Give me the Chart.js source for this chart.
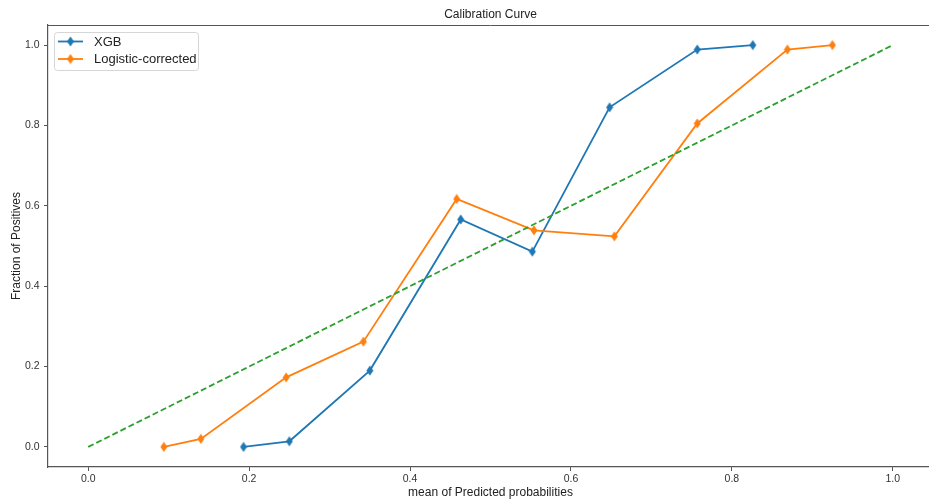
<!DOCTYPE html>
<html>
<head>
<meta charset="utf-8">
<script src="https://cdn.jsdelivr.net/npm/chart.js@4/dist/chart.umd.min.js"></script>
<style>
  html, body { margin: 0; padding: 0; background: #fff; overflow: hidden; }
</style>
</head>
<body>
<canvas id="calibChart" width="945" height="499"></canvas>
<script>
// values
const xgbX = [0.193, 0.250, 0.350, 0.463, 0.552, 0.648, 0.757, 0.826];
const xgbY = [0.0, 0.014, 0.190, 0.566, 0.486, 0.845, 0.989, 1.0];
const logX = [0.094, 0.140, 0.246, 0.342, 0.458, 0.554, 0.654, 0.757, 0.869, 0.925];
const logY = [0.0, 0.020, 0.173, 0.262, 0.617, 0.539, 0.524, 0.805, 0.989, 1.0];
const diagX = [0.0, 1.0];
const diagY = [0.0, 1.0];
const xTicks = [0.0, 0.2, 0.4, 0.6, 0.8, 1.0];
const yTicks = [0.0, 0.2, 0.4, 0.6, 0.8, 1.0];

const FONT = '"Liberation Sans", Arial, sans-serif';
const BLUE = '#1f77b4', ORANGE = '#ff7f0e', GREEN = '#2ca02c';
const SPINE = '#555';

// matplotlib-like thin diamond marker
function thinDiamond(color) {
    const c = document.createElement('canvas');
    c.width = 8; c.height = 11;
    const g = c.getContext('2d');
    g.fillStyle = color;
    g.beginPath();
    g.moveTo(4, 0.5); g.lineTo(7.5, 5.5); g.lineTo(4, 10.5); g.lineTo(0.5, 5.5);
    g.closePath();
    g.fill();
    return c;
}

const pts = (xs, ys) => xs.map((x, i) => ({ x: x, y: ys[i] }));

// title, top spine and an in-plot legend
const decor = {
    id: 'decor',
    afterDraw(chart) {
        const ctx = chart.ctx, a = chart.chartArea;
        ctx.save();
        ctx.strokeStyle = SPINE;
        ctx.lineWidth = 1;
        ctx.beginPath();
        ctx.moveTo(a.left, a.top + 0.5);
        ctx.lineTo(a.right, a.top + 0.5);
        ctx.stroke();

        ctx.fillStyle = '#222';
        ctx.font = '12px ' + FONT;
        ctx.textAlign = 'center';
        ctx.textBaseline = 'middle';
        ctx.fillText('Calibration Curve', (a.left + a.right) / 2, 15);

        // legend box
        const bx = a.left + 6, by = a.top + 7, bw = 144, bh = 38;
        ctx.beginPath();
        ctx.roundRect(bx + 0.5, by + 0.5, bw, bh, 3);
        ctx.fillStyle = 'rgba(255,255,255,0.8)';
        ctx.fill();
        ctx.strokeStyle = '#d6d6d6';
        ctx.stroke();

        const items = chart.data.datasets.filter(d => d.label);
        items.forEach((d, i) => {
            const y = by + 9.5 + i * 17.5;
            ctx.strokeStyle = d.borderColor;
            ctx.lineWidth = 1.8;
            ctx.beginPath();
            ctx.moveTo(bx + 4, y);
            ctx.lineTo(bx + 29, y);
            ctx.stroke();
            ctx.drawImage(d.pointStyle, bx + 16.5 - 4, y - 5.5);
            ctx.fillStyle = '#222';
            ctx.font = '13px ' + FONT;
            ctx.textAlign = 'left';
            ctx.fillText(d.label, bx + 40, y + 0.5);
        });
        ctx.restore();
    }
};

const ctx = document.getElementById('calibChart').getContext('2d');
const calibChart = new Chart(ctx, {
    type: 'line',
    data: {
        datasets: [{
            label: 'XGB',
            data: pts(xgbX, xgbY),
            borderColor: BLUE,
            backgroundColor: BLUE,
            borderWidth: 1.8,
            pointStyle: thinDiamond(BLUE),
            pointRadius: 5,
            order: 2
        }, {
            label: 'Logistic-corrected',
            data: pts(logX, logY),
            borderColor: ORANGE,
            backgroundColor: ORANGE,
            borderWidth: 1.8,
            pointStyle: thinDiamond(ORANGE),
            pointRadius: 5,
            order: 1
        }, {
            data: pts(diagX, diagY),
            borderColor: GREEN,
            borderWidth: 1.8,
            borderDash: [6, 3],
            pointRadius: 0,
            order: 0
        }]
    },
    options: {
        responsive: false,
        animation: false,
        layout: { padding: { top: 25, right: 12, left: 0, bottom: 0 } },
        plugins: {
            legend: { display: false },
            tooltip: { enabled: false }
        },
        scales: {
            x: {
                type: 'linear',
                min: -0.05,
                max: 1.05,
                afterBuildTicks: s => { s.ticks = xTicks.map(v => ({ value: v })); },
                afterFit: s => { s.height = 32; },
                grid: { drawOnChartArea: false, tickLength: 4, color: SPINE },
                border: { color: SPINE, width: 1.2 },
                ticks: {
                    padding: 2,
                    color: '#333',
                    font: { family: FONT, size: 10.5 },
                    callback: v => v.toFixed(1)
                },
                title: {
                    display: true,
                    text: 'mean of Predicted probabilities',
                    color: '#222',
                    font: { family: FONT, size: 12, lineHeight: 1.0 },
                    padding: { top: 0, bottom: 0 }
                }
            },
            y: {
                type: 'linear',
                min: -0.05,
                max: 1.05,
                afterBuildTicks: s => { s.ticks = yTicks.map(v => ({ value: v })); },
                afterFit: s => { s.width = 48; },
                grid: { drawOnChartArea: false, tickLength: 4, color: SPINE },
                border: { color: SPINE, width: 1.2 },
                ticks: {
                    padding: 4.5,
                    color: '#333',
                    font: { family: FONT, size: 10.5 },
                    callback: v => v.toFixed(1)
                },
                title: {
                    display: true,
                    text: 'Fraction of Positives',
                    color: '#222',
                    font: { family: FONT, size: 12 },
                    padding: { top: 9, bottom: 0 }
                }
            }
        }
    },
    plugins: [decor]
});
</script>
</body>
</html>
